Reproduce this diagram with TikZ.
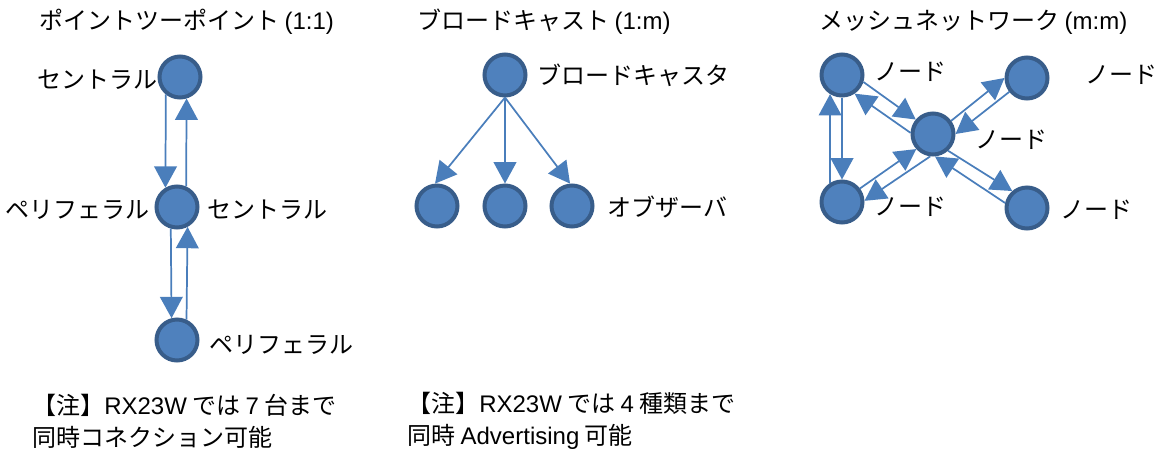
\documentclass[tikz,border=0pt]{standalone}
\usepackage{fontspec}
\setmainfont{Liberation Sans}
\newfontfamily\jp{Noto Sans CJK JP}
\usetikzlibrary{arrows.meta, calc}

\definecolor{nodefill}{HTML}{4F81BD}
\definecolor{nodeline}{HTML}{385D8A}
\definecolor{linkcol}{HTML}{4A7EBB}
\newcommand{\ltn}[1]{{\rmfamily #1}}

\tikzset{
    dev/.style={circle, draw=nodeline, fill=nodefill, line width=3pt, minimum size=30.75pt, inner sep=0pt},
    link/.style={draw=linkcol, line width=1.3pt, -{Triangle[length=16pt, width=17pt]}},
    lbl/.style={font=\jp\fontsize{18}{24}\selectfont, inner sep=0pt},
}

\begin{document}
\begin{tikzpicture}[x=0.75pt, y=-0.75pt]
    \useasboundingbox (0, 0) rectangle (1160, 451);

    % point to point
    \node[lbl, anchor=west] (ttlp) at (39, 22) {ポイントツーポイント \ltn{(1:1)}};
    \node[dev] (cen) at (180, 77) {};
    \node[dev] (mid) at (177, 207) {};
    \node[dev] (per) at (177, 340) {};

    \node[lbl, anchor=east] (cenl) at (158, 80) {セントラル};
    \node[lbl, anchor=east] (midl) at (150, 210) {ペリフェラル};
    \node[lbl, anchor=west] (midr) at (207, 210) {セントラル};
    \node[lbl, anchor=west] (perl) at (209, 345) {ペリフェラル};

    \draw[link] (cen.231) -- (mid.121);
    \draw[link] (mid.66) -- (cen.-73);
    \draw[link] (mid.254) -- (per.104);
    \draw[link] (per.65) -- (mid.-62);

    % broadcast
    \node[lbl, anchor=west] (ttlb) at (417, 22) {ブロードキャスト \ltn{(1:m)}};
    \node[dev] (bc) at (505, 75) {};
    \node[dev] (obsa) at (437, 206) {};
    \node[dev] (obsb) at (505, 206) {};
    \node[dev] (obsc) at (572, 206) {};

    \node[lbl, anchor=west] (bcl) at (537, 75) {ブロードキャスタ};
    \node[lbl, anchor=west] (obsl) at (607, 207) {オブザーバ};

    \draw[link] (bc.south) -- (obsa.95);
    \draw[link] (bc.south) -- (obsb.north);
    \draw[link] (bc.south) -- (obsc.95);

    % mesh
    \node[lbl, anchor=west] (ttlm) at (819, 22) {メッシュネットワーク \ltn{(m:m)}};
    \node[dev] (tl) at (842, 75) {};
    \node[dev] (tr) at (1027, 78) {};
    \node[dev] (ctr) at (933, 134) {};
    \node[dev] (bl) at (842, 202) {};
    \node[dev] (br) at (1027, 208) {};

    \node[lbl, anchor=west] (tll) at (874, 72) {ノード};
    \node[lbl, anchor=west] (trl) at (1085, 75) {ノード};
    \node[lbl, anchor=west] (ctrl) at (975, 140) {ノード};
    \node[lbl, anchor=west] (bll) at (874, 207) {ノード};
    \node[lbl, anchor=west] (brl) at (1060, 210) {ノード};

    \draw[link] (tl.-18) -- (ctr.140);
    \draw[link] (ctr.177) -- (tl.-56);
    \draw[link] (ctr.36) -- (tr.180);
    \draw[link] (tr.218) -- (ctr.0);
    \draw[link] (ctr.263) -- (bl.3);
    \draw[link] (bl.37) -- (ctr.222);
    \draw[link] (ctr.-48) -- (br.131);
    \draw[link] (br.167) -- (ctr.-85);
    \draw[link] (tl.south) -- (bl.north);
    \draw[link] (bl.122) -- (tl.238);

    % notes
    \node[lbl, anchor=west, align=left] (notep) at (32, 421)
        {【注】\ltn{RX23W} では \ltn{7} 台まで\\同時コネクション可能};
    \node[lbl, anchor=west, align=left] (noteb) at (407, 421)
        {【注】\ltn{RX23W} では \ltn{4} 種類まで\\同時 \ltn{Advertising} 可能};
\end{tikzpicture}
\end{document}
